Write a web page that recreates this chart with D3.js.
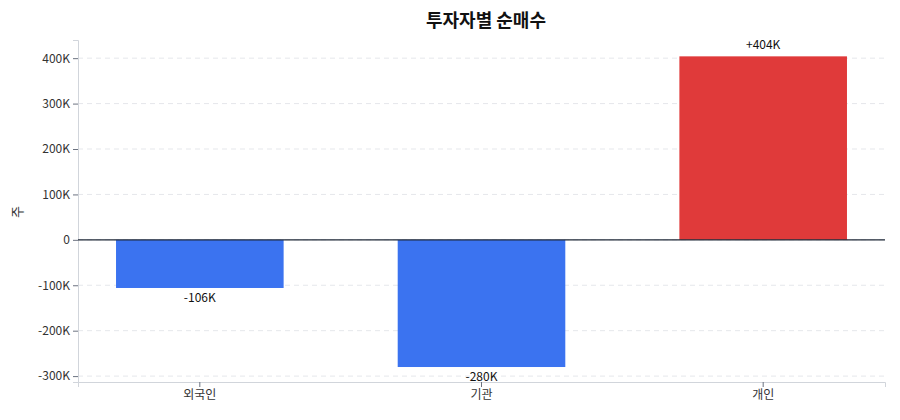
<!DOCTYPE html>
<html><head><meta charset="utf-8">
<script src="https://cdn.jsdelivr.net/npm/d3@7"></script>
<style>body{margin:0;background:#fff;font-family:"Noto Sans CJK KR","Noto Sans",sans-serif}</style>
</head><body><div id="chart"></div>
<script>
var categories = ['외국인', '기관', '개인']
var values = [-106000, -280000, 404000]
var labels = ['-106K', '-280K', '+404K']
var yTicks = [-300000, -200000, -100000, 0, 100000, 200000, 300000, 400000]

var width = 900, height = 420
var margin = {top: 40, right: 15, bottom: 38, left: 78}

var svg = d3.select('#chart').append('svg').attr('width', width).attr('height', height)

var x = d3.scaleBand().domain(categories).range([margin.left, width - margin.right]).paddingInner(0.405).paddingOuter(0.135)
var y = d3.scaleLinear().domain([-313000, 440000]).range([height - margin.bottom, margin.top])

// grid
svg.append('g').selectAll('line').data(yTicks).join('line')
  .attr('x1', margin.left).attr('x2', width - margin.right)
  .attr('y1', d => y(d)).attr('y2', d => y(d))
  .attr('stroke', '#e5e7eb').attr('stroke-dasharray', '5,4')

var fmt = d => d === 0 ? '0' : (d / 1000) + 'K'
var yAxis = svg.append('g').attr('transform', 'translate(' + margin.left + ',0)')
  .call(d3.axisLeft(y).tickValues(yTicks).tickFormat(fmt).tickSize(5))
yAxis.select('.domain').attr('stroke', '#d1d5db')
yAxis.selectAll('.tick line').attr('stroke', '#6b7280')
yAxis.selectAll('text').attr('fill', '#333').attr('font-size', 12).attr('font-family', '"Noto Sans CJK KR",sans-serif')

var xAxis = svg.append('g').attr('transform', 'translate(0,' + (height - margin.bottom) + ')')
  .call(d3.axisBottom(x).tickSize(5))
xAxis.select('.domain').attr('stroke', '#d1d5db')
xAxis.selectAll('.tick line').attr('stroke', '#6b7280')
xAxis.selectAll('text').attr('fill', '#333').attr('font-size', 12).attr('font-family', '"Noto Sans CJK KR",sans-serif')

svg.append('g').selectAll('rect').data(values).join('rect')
  .attr('x', (d, i) => x(categories[i]))
  .attr('width', x.bandwidth())
  .attr('y', d => y(Math.max(0, d)))
  .attr('height', d => Math.abs(y(d) - y(0)))
  .attr('fill', d => d < 0 ? '#3b73f0' : '#e03a3a')

svg.append('line').attr('x1', margin.left).attr('x2', width - margin.right)
  .attr('y1', y(0)).attr('y2', y(0)).attr('stroke', '#1f2937').attr('stroke-width', 1.2)

svg.append('g').selectAll('text').data(values).join('text')
  .attr('x', (d, i) => x(categories[i]) + x.bandwidth() / 2)
  .attr('y', d => d < 0 ? y(d) + 14 : y(d) - 7)
  .attr('text-anchor', 'middle').attr('font-size', 12).attr('fill', '#111')
  .text((d, i) => labels[i])

svg.append('text').attr('x', width / 2 + 36).attr('y', 27).attr('text-anchor', 'middle')
  .attr('font-size', 18).attr('font-weight', 'bold').attr('fill', '#111').text('투자자별 순매수')

svg.append('text').attr('transform', 'translate(22,212) rotate(-90)').attr('text-anchor', 'middle')
  .attr('font-size', 13).attr('fill', '#333').text('주')
</script></body></html>
